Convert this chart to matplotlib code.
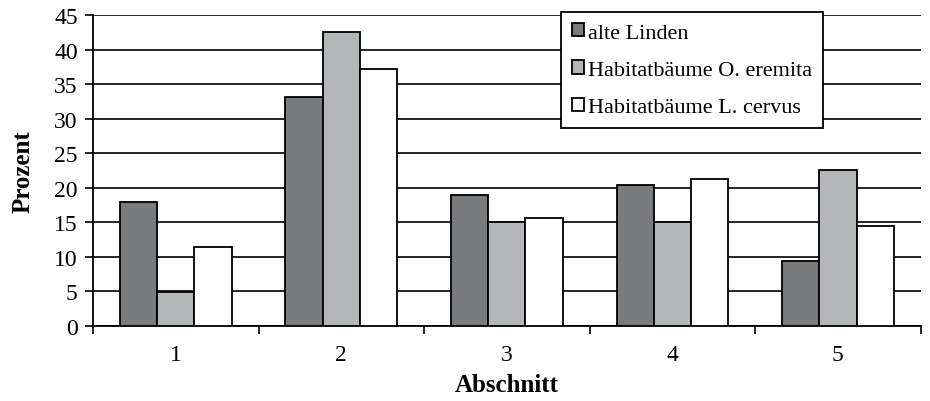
import numpy as np
import matplotlib
matplotlib.use('Agg')
import matplotlib.pyplot as plt

plt.rcParams['font.family'] = ['Liberation Serif', 'DejaVu Serif']

categories = ['1', '2', '3', '4', '5']
series_names = ['alte Linden', 'Habitatbäume O. eremita', 'Habitatbäume L. cervus']
alte_linden = [17.9, 33.1, 19.0, 20.4, 9.4]
o_eremita = [4.9, 42.5, 15.0, 15.0, 22.5]
l_cervus = [11.4, 37.2, 15.6, 21.3, 14.5]
colors = ['#7a7b7d', '#b4b7b7', '#ffffff']

fig = plt.figure(figsize=(9.3, 4.02), dpi=100)
ax = fig.add_axes([0.1, 0.187, 0.89, 0.773])

x = np.arange(len(categories))
w = 0.225
for i, (vals, name) in enumerate(zip([alte_linden, o_eremita, l_cervus], series_names)):
    ax.bar(x + (i - 1) * w, vals, width=w, color=colors[i], edgecolor='black',
           linewidth=1.3, label=name, zorder=3)

ax.set_xlim(-0.5, 4.5)
ax.set_ylim(0, 45)
ax.set_yticks(np.arange(0, 46, 5))
ax.set_xticks(x)
ax.set_xticklabels(categories)
ax.set_xticks(np.arange(-0.5, 4.6, 1), minor=True)
ax.tick_params(axis='x', which='major', length=0, pad=13, labelsize=17)
ax.tick_params(axis='x', which='minor', length=6, width=1.2, direction='out')
ax.tick_params(axis='y', length=6, width=1.2, direction='out', labelsize=17, pad=5)

ax.yaxis.grid(True, color='black', linewidth=1.2, zorder=0)
ax.set_axisbelow(True)
for s in ['top', 'right']:
    ax.spines[s].set_visible(False)
for s in ['left', 'bottom']:
    ax.spines[s].set_linewidth(1.3)

ax.set_ylabel('Prozent', fontsize=18, fontweight='bold', labelpad=14)
ax.set_xlabel('Abschnitt', fontsize=18, fontweight='bold', labelpad=6)

leg = ax.legend(loc='upper right', bbox_to_anchor=(0.882, 1.01), borderaxespad=0,
                fontsize=16, handlelength=0.55, handleheight=0.55, handletextpad=0.15,
                labelspacing=0.8, fancybox=False, framealpha=1, edgecolor='black',
                borderpad=0.5)
leg.get_frame().set_linewidth(1.3)
leg.set_zorder(5)

fig.savefig('out.png', dpi=100)
